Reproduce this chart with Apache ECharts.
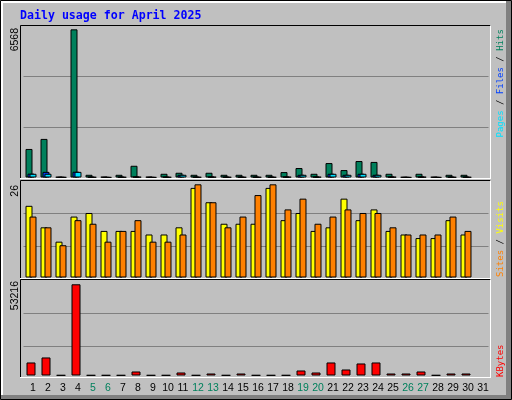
<!DOCTYPE html>
<html>
<head>
<meta charset="utf-8">
<title>Daily usage for April 2025</title>
<script src="https://cdn.jsdelivr.net/npm/echarts@6/dist/echarts.min.js"></script>
<style>
  html, body { margin: 0; padding: 0; background: #c0c0c0; }
  #chart { width: 512px; height: 400px; }
</style>
</head>
<body>
<div id="chart"></div>
<script>
// April 2025, day 31 has no data yet
const days = ['1', '2', '3', '4', '5', '6', '7', '8', '9', '10', '11', '12', '13', '14', '15', '16',
  '17', '18', '19', '20', '21', '22', '23', '24', '25', '26', '27', '28', '29', '30', '31']
const hits = [1265, 1711, 25, 6568, 120, 30, 120, 520, 30, 165, 210, 120, 210, 120, 120, 120,
  120, 240, 420, 165, 640, 330, 730, 690, 165, 20, 165, 25, 120, 120, null]
const files = [170, 250, 15, 255, 25, 10, 25, 35, 10, 25, 120, 25, 35, 25, 25, 25,
  25, 35, 120, 35, 165, 120, 165, 120, 35, 10, 35, 10, 25, 25, null]
const pages = [165, 165, 15, 250, 20, 10, 20, 30, 10, 20, 120, 20, 30, 20, 20, 20,
  20, 30, 120, 30, 165, 120, 165, 120, 30, 10, 30, 10, 20, 20, null]
const visits = [20, 14, 10, 17, 18, 13, 13, 13, 12, 12, 14, 25, 21, 15, 15, 15,
  25, 16, 18, 13, 14, 22, 16, 19, 13, 12, 11, 11, 16, 12, null]
const sites = [17, 14, 9, 16, 15, 10, 13, 16, 10, 10, 12, 26, 21, 14, 17, 23,
  26, 19, 22, 15, 17, 19, 18, 18, 14, 12, 12, 12, 17, 13, null]
const kbytes = [7602, 10526, 200, 53216, 200, 200, 200, 2339, 200, 200, 1754, 200, 1170, 200, 1170, 200,
  200, 200, 2924, 1754, 7602, 3509, 7017, 7602, 1170, 1170, 2339, 200, 1170, 1170, null]

const hitColor = '#00805c'
const fileColor = '#0040ff'
const pageColor = '#00e0ff'
const visitColor = '#ffff00'
const siteColor = '#ff8000'
const kbyteColor = '#ff0000'
const gridColor = '#808080'

const isWeekend = d => {
  const wd = new Date(2025, 3, Number(d)).getDay()
  return wd === 0 || wd === 6
}
const maxOf = arr => Math.max(...arr.filter(v => v != null))

// one panel = one grid; second y axis only draws the grey lines from the top
const panels = [
  { top: 25.5, base: 177.5, step: 51, head: 1.026 },
  { top: 180.5, base: 277.5, step: 33, head: 1.041 },
  { top: 280, base: 375.5, step: 33, head: 1.047 }
]

const xAxis = panels.map((p, i) => ({
  type: 'category',
  gridIndex: i,
  data: days,
  axisLine: { show: false },
  axisTick: { show: false },
  splitLine: { show: false },
  axisLabel: i < 2 ? { show: false } : {
    interval: 0,
    margin: 7.5,
    padding: [0, 0, 0, 4],
    fontFamily: 'Liberation Sans',
    fontSize: 10.5,
    color: (value) => isWeekend(value) ? hitColor : '#000'
  }
}))

const yAxis = []
panels.forEach((p, i) => {
  yAxis.push({
    type: 'value', gridIndex: i, show: false, min: 0,
    max: v => v.max * p.head
  })
  yAxis.push({
    type: 'value', gridIndex: i, inverse: true,
    min: 0, max: p.base - p.top, interval: p.step,
    axisLine: { show: false }, axisTick: { show: false }, axisLabel: { show: false },
    splitLine: { show: true, showMinLine: false, showMaxLine: false, lineStyle: { color: gridColor, width: 1 } }
  })
})

const bar = (name, data, color, xi, yi, width, gap) => ({
  name, type: 'bar', data,
  xAxisIndex: xi, yAxisIndex: yi,
  barWidth: width, barGap: gap,
  itemStyle: { color, borderColor: '#000', borderWidth: 1 }
})

// frames and texts
const line = (x1, y1, x2, y2, color, w) => ({
  type: 'line', z: 100, silent: true,
  shape: { x1, y1, x2, y2 },
  style: { stroke: color, lineWidth: w || 1 }
})
const graphic = [
  { type: 'rect', z: 90, shape: { x: 506, y: 1, width: 5, height: 398 }, style: { fill: '#808080' } },
  { type: 'rect', z: 90, shape: { x: 1, y: 395, width: 510, height: 4 }, style: { fill: '#808080' } },
  line(1, 2, 506, 2, '#fff', 2),
  line(2, 1, 2, 395, '#fff', 2),
  { type: 'rect', z: 100, shape: { x: 0.5, y: 0.5, width: 511, height: 399 }, style: { fill: null, stroke: '#000', lineWidth: 1 } }
]
const frames = [[25.5, 178.5], [180.5, 278.5], [279.5, 377.5]]
frames.forEach(([t, b]) => {
  graphic.push(line(20.5, t, 490.5, t, '#000'))
  graphic.push(line(20.5, t, 20.5, b, '#000'))
  graphic.push(line(20, b, 491, b, '#fff'))
  graphic.push(line(490.5, t, 490.5, b, '#fff'))
})

const sideText = (x, y, text, align, rich) => ({
  type: 'text', z: 100, x, y, rotation: Math.PI / 2,
  style: {
    text, align, verticalAlign: 'middle',
    fontFamily: rich ? 'DejaVu Sans Mono' : 'Liberation Sans',
    fontSize: rich ? 9 : 10.5,
    fill: '#000', rich
  }
})
graphic.push({
  type: 'text', z: 100, x: 20, y: 15.5,
  style: {
    text: 'Daily usage for April 2025', fill: '#0000ff',
    fontFamily: 'DejaVu Sans Mono', fontWeight: 'bold', fontSize: 11.6,
    verticalAlign: 'middle'
  }
})
graphic.push(sideText(15.5, 28, String(maxOf(hits)), 'right'))
graphic.push(sideText(15.5, 185, String(Math.max(maxOf(visits), maxOf(sites))), 'right'))
graphic.push(sideText(15.5, 281, String(maxOf(kbytes)), 'right'))
graphic.push(sideText(501, 137.5, '{p|Pages} / {f|Files} / {h|Hits}', 'left', {
  p: { fill: pageColor }, f: { fill: fileColor }, h: { fill: hitColor }
}))
graphic.push(sideText(501, 277, '{s|Sites} / {v|Visits}', 'left', {
  s: { fill: siteColor }, v: { fill: visitColor }
}))
graphic.push(sideText(501, 377, '{k|KBytes}', 'left', {
  k: { fill: kbyteColor }
}))

const option = {
  animation: false,
  backgroundColor: '#c0c0c0',
  grid: panels.map(p => ({ left: 23.5, right: 23.5, top: p.top, bottom: 400 - p.base })),
  xAxis,
  yAxis,
  series: [
    bar('Hits', hits, hitColor, 0, 0, 7, '-71.43%'),
    bar('Files', files, fileColor, 0, 0, 7, '-71.43%'),
    bar('Pages', pages, pageColor, 0, 0, 7, '-71.43%'),
    bar('Visits', visits, visitColor, 1, 2, 7, '-42.86%'),
    bar('Sites', sites, siteColor, 1, 2, 7, '-42.86%'),
    bar('KBytes', kbytes, kbyteColor, 2, 4, 9)
  ],
  graphic
}

const chart = echarts.init(document.getElementById('chart'), null, { renderer: 'canvas' })
chart.setOption(option)
window.addEventListener('resize', () => chart.resize())
</script>
</body>
</html>
